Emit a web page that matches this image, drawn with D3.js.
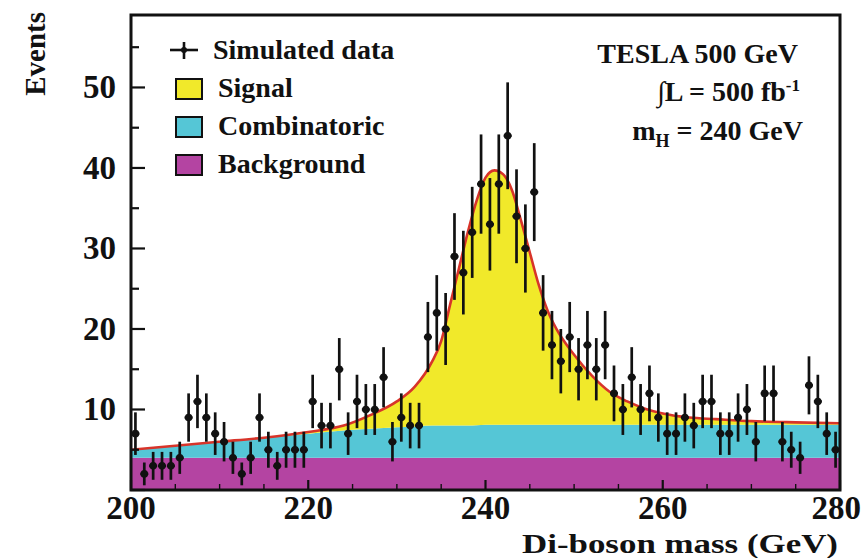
<!DOCTYPE html>
<html>
<head>
<meta charset="utf-8">
<script src="https://cdn.jsdelivr.net/npm/d3@7"></script>
<style>
  body { margin: 0; background: #fff; }
  text { font-family: "Liberation Serif", "Times New Roman", serif; font-weight: bold; fill: #111; }
</style>
</head>
<body>
<svg id="chart" width="863" height="558"></svg>
<script>
// Fit components, sampled along the di-boson mass (GeV)
const massGrid = [200, 205, 210, 215, 220, 224, 227, 230, 232, 234, 235, 236, 237, 238, 239, 240,
                  241, 242, 243, 244, 245, 246, 247, 248, 250, 252, 254, 256, 258, 260, 263, 266, 270, 275, 280];
const background = [4.0, 4.0, 4.0, 4.0, 4.0, 4.0, 4.0, 4.0, 4.0, 4.0, 4.0, 4.0, 4.0, 4.0, 4.0, 4.0,
                    4.0, 4.0, 4.0, 4.0, 4.0, 4.0, 4.0, 4.0, 4.0, 4.0, 4.0, 4.0, 4.0, 4.0, 4.0, 4.0, 4.0, 4.0, 4.0];
const combinatoric = [1.0, 1.5, 2.0, 2.5, 3.0, 3.4, 3.6, 3.8, 3.9, 4.0, 4.0, 4.0, 4.0, 4.0, 4.05, 4.1,
                      4.1, 4.1, 4.1, 4.1, 4.1, 4.1, 4.1, 4.1, 4.1, 4.1, 4.1, 4.1, 4.1, 4.1, 4.1, 4.1, 4.1, 4.1, 4.1];
const signal = [0, 0, 0, 0, 0.2, 0.6, 1.7, 3.2, 4.9, 8.0, 10.5, 15.0, 19.5, 24.0, 27.9, 30.7,
                31.6, 31.1, 29.1, 25.4, 21.4, 17.4, 14.2, 11.9, 8.7, 6.1, 4.1, 2.9, 2.0, 1.4, 0.9, 0.7, 0.45, 0.3, 0.2];

// Simulated data: 1 GeV bins
const binCenters = [200.5, 201.5, 202.5, 203.5, 204.5, 205.5, 206.5, 207.5, 208.5, 209.5,
                    210.5, 211.5, 212.5, 213.5, 214.5, 215.5, 216.5, 217.5, 218.5, 219.5,
                    220.5, 221.5, 222.5, 223.5, 224.5, 225.5, 226.5, 227.5, 228.5, 229.5,
                    230.5, 231.5, 232.5, 233.5, 234.5, 235.5, 236.5, 237.5, 238.5, 239.5,
                    240.5, 241.5, 242.5, 243.5, 244.5, 245.5, 246.5, 247.5, 248.5, 249.5,
                    250.5, 251.5, 252.5, 253.5, 254.5, 255.5, 256.5, 257.5, 258.5, 259.5,
                    260.5, 261.5, 262.5, 263.5, 264.5, 265.5, 266.5, 267.5, 268.5, 269.5,
                    270.5, 271.5, 272.5, 273.5, 274.5, 275.5, 276.5, 277.5, 278.5, 279.5];
const counts = [7, 2, 3, 3, 3, 4, 9, 11, 9, 7,
                6, 4, 2, 4, 9, 5, 3, 5, 5, 5,
                11, 8, 8, 15, 7, 11, 10, 10, 14, 6,
                9, 8, 8, 19, 22, 20, 29, 27, 32, 38,
                33, 38, 44, 34, 30, 37, 22, 18, 16, 19,
                15, 18, 15, 18, 12, 10, 14, 10, 12, 9,
                7, 7, 9, 8, 11, 11, 7, 7, 9, 10,
                6, 12, 12, 6, 5, 4, 13, 11, 7, 5];

const xTicks = [200, 220, 240, 260, 280];
const yTicks = [10, 20, 30, 40, 50];
const legendLabels = ["Simulated data", "Signal", "Combinatoric", "Background"];

const colors = { background: "#b444a2", combinatoric: "#55c6d6", signal: "#f1e92a", fit: "#d8342a" };

const svg = d3.select("#chart");
const plot = { left: 131, right: 840, top: 15, bottom: 490 };

const x = d3.scaleLinear().domain([200, 280]).range([plot.left, plot.right]);
const y = d3.scaleLinear().domain([0, 59]).range([plot.bottom, plot.top]);

svg.append("defs").append("clipPath").attr("id", "plotClip")
  .append("rect").attr("x", plot.left).attr("y", plot.top)
  .attr("width", plot.right - plot.left).attr("height", plot.bottom - plot.top);

// Stacked fit components
const rows = massGrid.map((m, i) => {
  const b = background[i], c = b + combinatoric[i], s = c + signal[i];
  return { m, b, c, s };
});

const g = svg.append("g").attr("clip-path", "url(#plotClip)");
const curve = d3.curveMonotoneX;
const area = (lo, hi) => d3.area().curve(curve).x(d => x(d.m)).y0(d => y(lo(d))).y1(d => y(hi(d)));

g.append("path").datum(rows).attr("fill", colors.background).attr("d", area(() => 0, d => d.b));
g.append("path").datum(rows).attr("fill", colors.combinatoric).attr("d", area(d => d.b, d => d.c));
g.append("path").datum(rows).attr("fill", colors.signal).attr("d", area(d => d.c, d => d.s));

// Total fit line
g.append("path").datum(rows)
  .attr("fill", "none").attr("stroke", colors.fit).attr("stroke-width", 2.6)
  .attr("d", d3.line().curve(curve).x(d => x(d.m)).y(d => y(d.s)));

// Axes ticks (inward)
const minorX = d3.range(200, 281, 5);
const minorY = d3.range(0, 59, 5);
const tickG = svg.append("g").attr("stroke", "#111");
tickG.selectAll("line.xt").data(minorX).join("line")
  .attr("x1", d => x(d)).attr("x2", d => x(d))
  .attr("y1", plot.bottom).attr("y2", d => plot.bottom - (d % 20 === 0 ? 10 : 6))
  .attr("stroke-width", d => d % 20 === 0 ? 2.2 : 1.4);
tickG.selectAll("line.yt").data(minorY).join("line")
  .attr("y1", d => y(d)).attr("y2", d => y(d))
  .attr("x1", plot.left).attr("x2", d => plot.left + (d % 10 === 0 ? 14 : 8))
  .attr("stroke-width", 2.2);

// Data points with statistical error bars
const pts = binCenters.map((m, i) => ({ m, n: counts[i] }));
const dataG = svg.append("g").attr("clip-path", "url(#plotClip)");
dataG.selectAll("line.err").data(pts).join("line")
  .attr("x1", d => x(d.m)).attr("x2", d => x(d.m))
  .attr("y1", d => y(d.n + Math.sqrt(d.n))).attr("y2", d => y(Math.max(0, d.n - Math.sqrt(d.n))))
  .attr("stroke", "#111").attr("stroke-width", 2.7);
dataG.selectAll("line.bin").data(pts).join("line")
  .attr("x1", d => x(d.m) - 4).attr("x2", d => x(d.m) + 4)
  .attr("y1", d => y(d.n)).attr("y2", d => y(d.n))
  .attr("stroke", "#111").attr("stroke-width", 2.4);
dataG.selectAll("circle").data(pts).join("circle")
  .attr("cx", d => x(d.m)).attr("cy", d => y(d.n)).attr("r", 3.8).attr("fill", "#111");

// Frame
svg.append("rect")
  .attr("x", plot.left).attr("y", plot.top)
  .attr("width", plot.right - plot.left).attr("height", plot.bottom - plot.top)
  .attr("fill", "none").attr("stroke", "#111").attr("stroke-width", 3);

// Tick labels (the last one is pulled inside the page edge)
svg.selectAll("text.xl").data(xTicks).join("text")
  .attr("x", (d, i) => i === xTicks.length - 1 ? 861 : x(d))
  .attr("y", 519)
  .attr("text-anchor", (d, i) => i === xTicks.length - 1 ? "end" : "middle")
  .attr("font-size", 33).text(d => d);
svg.selectAll("text.yl").data(yTicks).join("text")
  .attr("x", 116).attr("y", d => y(d) + 11).attr("text-anchor", "end")
  .attr("font-size", 33).text(d => d);

// Axis titles
svg.append("text").attr("x", 838).attr("y", 553).attr("text-anchor", "end")
  .attr("font-size", 28).attr("textLength", 316).attr("lengthAdjust", "spacingAndGlyphs")
  .text("Di-boson mass (GeV)");
svg.append("text").attr("transform", "translate(45,12) rotate(-90)")
  .attr("text-anchor", "end").attr("font-size", 29).text("Events");

// Legend
const leg = svg.append("g");
leg.append("line").attr("x1", 170).attr("x2", 198).attr("y1", 50).attr("y2", 50).attr("stroke", "#111").attr("stroke-width", 2.6);
leg.append("line").attr("x1", 184).attr("x2", 184).attr("y1", 42).attr("y2", 59).attr("stroke", "#111").attr("stroke-width", 2.6);
leg.append("circle").attr("cx", 184).attr("cy", 50).attr("r", 3).attr("fill", "#111");
const boxFill = [colors.signal, colors.combinatoric, colors.background];
leg.selectAll("rect").data(boxFill).join("rect")
  .attr("x", 176).attr("y", (d, i) => 79 + i * 38).attr("width", 26).attr("height", 20)
  .attr("fill", d => d).attr("stroke", "#111").attr("stroke-width", 2);
leg.selectAll("text").data(legendLabels).join("text")
  .attr("x", (d, i) => i === 0 ? 213 : 218)
  .attr("y", (d, i) => 59 + i * 38)
  .attr("font-size", 28).text(d => d);

// Run conditions
const info = svg.append("g").attr("text-anchor", "end").attr("font-size", 28);
info.append("text").attr("x", 798).attr("y", 63).text("TESLA 500 GeV");
const lumi = info.append("text").attr("x", 800).attr("y", 101);
lumi.append("tspan").attr("font-weight", "normal").text("\u222B");
lumi.append("tspan").text("L = 500 fb");
lumi.append("tspan").attr("dy", -10).attr("font-size", 17).text("-1");
const mh = info.append("text").attr("x", 803).attr("y", 140);
mh.append("tspan").text("m");
mh.append("tspan").attr("dy", 7).attr("font-size", 18).text("H");
mh.append("tspan").attr("dy", -7).text(" = 240 GeV");
</script>
</body>
</html>
